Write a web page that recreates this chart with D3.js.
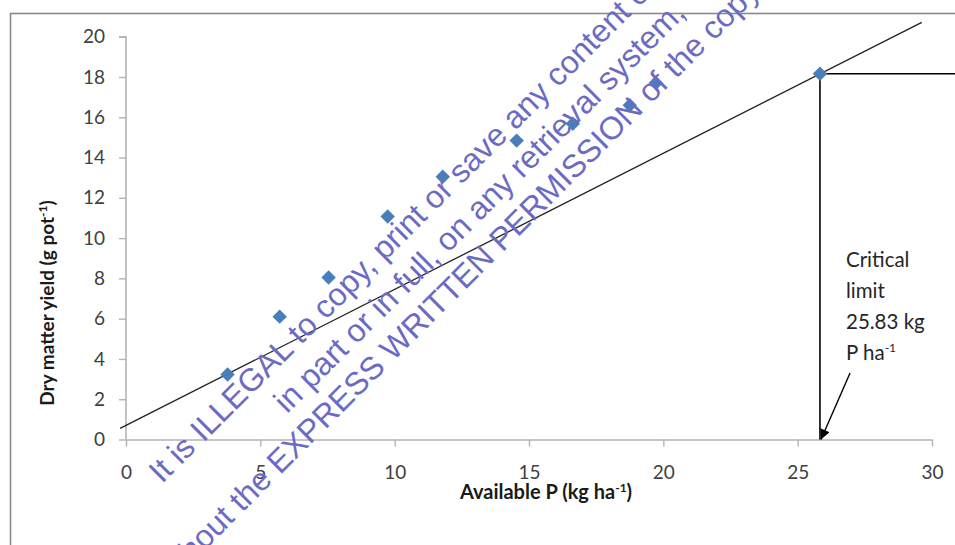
<!DOCTYPE html>
<html>
<head>
<meta charset="utf-8">
<script src="https://cdn.jsdelivr.net/npm/d3@7"></script>
<style>
  html, body { margin: 0; padding: 0; background: #fff; }
  svg { display: block; }
</style>
</head>
<body>
<svg id="chart" width="955" height="545"></svg>
<script>
// Available soil P (kg/ha) and dry matter yield (g/pot)
const availableP = [3.78, 5.72, 7.54, 9.74, 11.79, 14.54, 16.63, 18.75, 19.72, 25.83];
const dryMatter  = [3.23, 6.10, 8.04, 11.07, 13.05, 14.84, 15.68, 16.60, 17.70, 18.16];

// Straight reference line drawn across the plot (end points)
const lineX = [-0.22, 29.62];
const lineY = [0.55, 20.71];

// Critical limit and the yield reached there
const criticalP = 25.83;
const criticalYield = 18.16;
// Start of the pointer arrow from the annotation
const arrowFrom = [26.95, 3.3];

const xTicks = [0, 5, 10, 15, 20, 25, 30];
const yTicks = [0, 2, 4, 6, 8, 10, 12, 14, 16, 18, 20];

const annotationLines = ["Critical", "limit", "25.83 kg", "P ha"];
const watermarkLines = [
  "It is ILLEGAL to copy, print or save any content of this journal",
  "in part or in full, on any retrieval system,",
  "without the EXPRESS WRITTEN PERMISSION of the copyright holder."
];

const W = 955, H = 545;
const svg = d3.select("#chart");

const x = d3.scaleLinear().domain([0, 30]).range([126, 932]);
const y = d3.scaleLinear().domain([0, 20]).range([439.5, 36.7]);

const labelFont = "Lato, 'Open Sans', sans-serif";

// Outer chart frame
svg.append("rect")
  .attr("x", 10.5).attr("y", 13.5)
  .attr("width", W + 20).attr("height", H + 20)
  .attr("fill", "none").attr("stroke", "#8a8a8a").attr("stroke-width", 1.6);

// Y axis
const yAxis = svg.append("g")
  .attr("transform", `translate(${x(0)},0)`)
  .call(d3.axisLeft(y).tickValues(yTicks).tickSize(7).tickPadding(14).tickSizeOuter(0));
// X axis
const xAxis = svg.append("g")
  .attr("transform", `translate(0,${y(0)})`)
  .call(d3.axisBottom(x).tickValues(xTicks).tickSize(7).tickPadding(19).tickSizeOuter(0));

[yAxis, xAxis].forEach(g => {
  g.select(".domain").attr("stroke", "#b3b3b3").attr("stroke-width", 1.6);
  g.selectAll(".tick line").attr("stroke", "#b3b3b3").attr("stroke-width", 1.4);
  g.selectAll(".tick text")
    .attr("fill", "#404040")
    .style("font-family", labelFont)
    .style("font-size", "19px");
});
// the y axis continues a bit above the top tick
yAxis.select(".domain").attr("d", `M-7,${y(20)}H0V${y(0)}`);

// Axis titles
const yTitle = svg.append("text")
  .attr("transform", "translate(54,303) rotate(-90)")
  .attr("text-anchor", "middle")
  .attr("fill", "#1a1a1a")
  .style("font-family", labelFont)
  .style("font-size", "19px")
  .style("font-weight", "bold");
yTitle.append("tspan").text("Dry matter yield (g pot");
yTitle.append("tspan").attr("dy", -7).style("font-size", "12px").text("-1");
yTitle.append("tspan").attr("dy", 7).text(")");

const xTitle = svg.append("text")
  .attr("x", 546).attr("y", 499)
  .attr("text-anchor", "middle")
  .attr("fill", "#1a1a1a")
  .style("font-family", labelFont)
  .style("font-size", "20px")
  .style("font-weight", "bold");
xTitle.append("tspan").text("Available P (kg ha");
xTitle.append("tspan").attr("dy", -7).style("font-size", "12px").text("-1");
xTitle.append("tspan").attr("dy", 7).text(")");

// Reference line
svg.append("line")
  .attr("x1", x(lineX[0])).attr("y1", y(lineY[0]))
  .attr("x2", x(lineX[1])).attr("y2", y(lineY[1]))
  .attr("stroke", "#222").attr("stroke-width", 1.3);

// Critical limit lines: down to the axis and across to the right edge
svg.append("line")
  .attr("x1", x(criticalP)).attr("y1", y(criticalYield))
  .attr("x2", x(criticalP)).attr("y2", y(0))
  .attr("stroke", "#000").attr("stroke-width", 1.6);
svg.append("line")
  .attr("x1", x(criticalP)).attr("y1", y(criticalYield))
  .attr("x2", W).attr("y2", y(criticalYield))
  .attr("stroke", "#000").attr("stroke-width", 1.6);

// Data points (diamonds)
const pts = availableP.map((p, i) => ({ p, yld: dryMatter[i] }));
svg.append("g").selectAll("path")
  .data(pts)
  .join("path")
  .attr("d", d3.symbol(d3.symbolSquare, 104))
  .attr("transform", d => `translate(${x(d.p)},${y(d.yld)}) rotate(45)`)
  .attr("fill", "#4a7ebb");

// Pointer arrow
svg.append("defs").append("marker")
  .attr("id", "arrowhead")
  .attr("viewBox", "0 0 10 10")
  .attr("refX", 10).attr("refY", 5)
  .attr("markerWidth", 12).attr("markerHeight", 10)
  .attr("markerUnits", "userSpaceOnUse")
  .attr("orient", "auto")
  .append("path").attr("d", "M0,0L10,5L0,10Z").attr("fill", "#000");
svg.append("line")
  .attr("x1", x(arrowFrom[0])).attr("y1", y(arrowFrom[1]))
  .attr("x2", x(criticalP) + 1).attr("y2", y(0))
  .attr("stroke", "#000").attr("stroke-width", 1.4)
  .attr("marker-end", "url(#arrowhead)");

// Annotation text
const ann = svg.append("text")
  .attr("fill", "#262626")
  .style("font-family", labelFont)
  .style("font-size", "20.5px");
annotationLines.forEach((t, i) => {
  ann.append("tspan").attr("x", 846).attr("y", 267 + i * 31).text(t);
  if (i === annotationLines.length - 1) {
    ann.append("tspan").attr("dy", -8).style("font-size", "12px").text("-1");
  }
});

// Diagonal notice printed over the chart
const wm = svg.append("g")
  .attr("transform", "rotate(-45)")
  .attr("fill", "#6b6bc4")
  .style("font-family", "'Liberation Sans', Arial, sans-serif")
  .style("font-size", "32px");
wm.append("text").attr("x", -228).attr("y", 457).text(watermarkLines[0]);
wm.append("text").attr("x", -90).attr("y", 496).text(watermarkLines[1]);
const l3 = wm.append("text").attr("y", 534).text(watermarkLines[2]);
// align the third line so that "EXPRESS" starts at its place
const probe = wm.append("text").text("without the ");
const lead = probe.node().getComputedTextLength();
probe.remove();
l3.attr("x", -147 - lead);
</script>
</body>
</html>
